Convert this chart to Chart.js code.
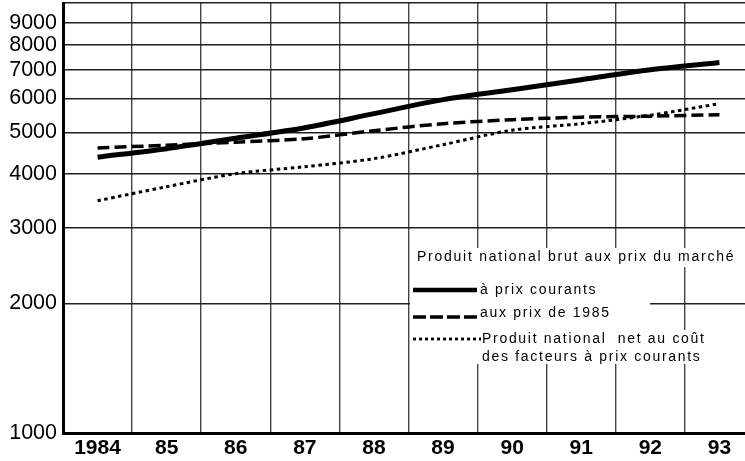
<!DOCTYPE html>
<html><head><meta charset="utf-8">
<script src="https://cdn.jsdelivr.net/npm/chart.js@4.4.1/dist/chart.umd.min.js"></script>
<style>html,body{margin:0;padding:0;background:#fff;overflow:hidden}#wrap{width:745px;height:461px;position:relative}</style>
</head><body><div id="wrap"><canvas id="c" width="745" height="461"></canvas></div>
<script>
const years = [1984, 1985, 1986, 1987, 1988, 1989, 1990, 1991, 1992, 1993];
const xLabels = ['1984', '85', '86', '87', '88', '89', '90', '91', '92', '93'];
const yTicks = [1000, 2000, 3000, 4000, 5000, 6000, 7000, 8000, 9000, 10000];
const pnbCourants = [4380, 4584, 4849, 5129, 5529, 5960, 6286, 6632, 6996, 7274];
const pnb1985 = [4601, 4670, 4746, 4836, 5047, 5240, 5353, 5426, 5455, 5499];
const pnnFacteurs = [3469, 3739, 4009, 4162, 4345, 4683, 5061, 5240, 5485, 5834];
const legendTitle = 'Produit national brut aux prix du marché';
const legendLabels = ['à prix courants', 'aux prix de 1985', 'Produit national  net au coût', 'des facteurs à prix courants'];

const toPts = arr => years.map((y, i) => ({x: y, y: arr[i]}));
const FONT = '"Liberation Sans", Arial, Helvetica, sans-serif';

const legendPlugin = {
  id: 'legendBox',
  afterDraw(chart) {
    const ctx = chart.ctx;
    ctx.save();
    ctx.fillStyle = '#fff';
    ctx.fillRect(410, 248, 335, 19);
    ctx.fillRect(410, 267, 240, 63);
    ctx.fillRect(410, 330, 302, 34);
    ctx.fillStyle = '#000';
    ctx.font = '14px ' + FONT;
    ctx.textBaseline = 'middle';
    ctx.textAlign = 'left';
    try { ctx.letterSpacing = '1.75px'; } catch (e) {}
    ctx.fillText(legendTitle, 417, 257);
    try { ctx.letterSpacing = '1.7px'; } catch (e) {}
    ctx.fillText(legendLabels[0], 480, 290);
    ctx.fillText(legendLabels[1], 480, 313);
    ctx.fillText(legendLabels[2], 482, 339);
    ctx.fillText(legendLabels[3], 482, 357);
    ctx.strokeStyle = '#000';
    ctx.lineCap = 'butt';
    ctx.beginPath(); ctx.lineWidth = 4.5; ctx.setLineDash([]);
    ctx.moveTo(413, 290); ctx.lineTo(477, 290); ctx.stroke();
    ctx.beginPath(); ctx.lineWidth = 3.5; ctx.setLineDash([13, 4]);
    ctx.moveTo(413, 317); ctx.lineTo(477, 317); ctx.stroke();
    ctx.beginPath(); ctx.lineWidth = 2.8; ctx.setLineDash([3, 3]);
    ctx.moveTo(413, 339); ctx.lineTo(481, 339); ctx.stroke();
    ctx.restore();
  }
};

new Chart(document.getElementById('c'), {
  type: 'line',
  data: {
    datasets: [
      {data: toPts(pnbCourants), borderColor: '#000', borderWidth: 5, tension: 0.3, pointRadius: 0, fill: false},
      {data: toPts(pnb1985), borderColor: '#000', borderWidth: 3.5, borderDash: [12, 5], tension: 0.3, pointRadius: 0, fill: false},
      {data: toPts(pnnFacteurs), borderColor: '#000', borderWidth: 3, borderDash: [3.5, 3.5], tension: 0.3, pointRadius: 0, fill: false}
    ]
  },
  options: {
    responsive: false,
    animation: false,
    devicePixelRatio: 1,
    layout: {padding: {top: 3, right: 0, bottom: 0, left: 0}},
    plugins: {legend: {display: false}, tooltip: {enabled: false}},
    scales: {
      x: {
        type: 'linear',
        min: 1983.5,
        max: 1993.37,
        afterBuildTicks: s => { s.ticks = years.map(v => ({value: v})); },
        afterFit: s => { s.height = 28; s.paddingLeft = 0; s.paddingRight = 0; },
        grid: {offset: true, color: '#444', lineWidth: 1.4, drawTicks: false},
        border: {display: true, color: '#000', width: 3},
        ticks: {
          autoSkip: false, maxRotation: 0, padding: 3, color: '#000',
          font: {family: FONT, size: 21, weight: 'bold'},
          callback: v => xLabels[years.indexOf(v)]
        }
      },
      y: {
        type: 'logarithmic',
        min: 1000,
        max: 10000,
        afterBuildTicks: s => { s.ticks = yTicks.map(v => ({value: v})); },
        afterFit: s => { s.width = 63; s.paddingTop = 0; s.paddingBottom = 0; },
        grid: {color: '#222', lineWidth: 1.6, drawTicks: false},
        border: {display: true, color: '#000', width: 3},
        ticks: {
          autoSkip: false, padding: 6, color: '#000',
          font: {family: FONT, size: 21.5},
          callback: v => (v === 10000 ? '' : String(v))
        }
      }
    }
  },
  plugins: [legendPlugin]
});
</script></body></html>
